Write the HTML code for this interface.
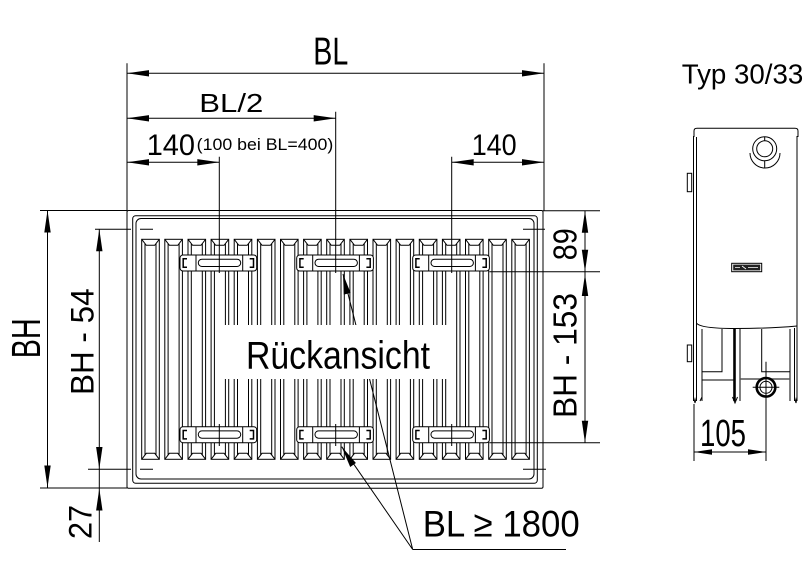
<!DOCTYPE html>
<html><head><meta charset="utf-8"><style>
html,body{margin:0;padding:0;background:#fff;}
svg{display:block;}
text{font-family:"Liberation Sans",Arial,sans-serif;fill:#000;}
</style></head><body>
<svg width="810" height="572" viewBox="0 0 810 572" xmlns="http://www.w3.org/2000/svg">
<defs>
<g id="fin" fill="none" stroke="#000" stroke-width="1">
<rect x="0" y="239.3" width="17.6" height="220"/>
<path d="M0,239.3 L4.6,245.3 H13 L17.6,239.3 M0,459.3 L4.6,453.3 H13 L17.6,459.3 M3.3,243.6 V455 M14.3,243.6 V455"/>
</g>
<g id="br" stroke="#000">
<rect x="0" y="0" width="76.7" height="16" rx="3" fill="#fff" stroke-width="1"/>
<path d="M16,0 V16 M62.7,0 V16" fill="none" stroke-width="1"/>
<rect x="18.3" y="4.2" width="42.4" height="7.3" rx="3.6" fill="none" stroke-width="1"/>
<path d="M7,3.8 H3.2 V12.2 H7 M69.7,3.8 H73.5 V12.2 H69.7" fill="none" stroke-width="1.5"/>
</g>
</defs>
<rect width="810" height="572" fill="#fff"/>

<!-- frame -->
<g fill="none" stroke="#000" stroke-width="1">
<rect x="127" y="210.5" width="416" height="277.8" rx="1.5"/>
<rect x="132.7" y="215.7" width="404.6" height="267.6" rx="3"/>
<rect x="136" y="218.5" width="398" height="260.5" rx="5"/>
</g>

<!-- fins -->
<use href="#fin" x="141.7"/><use href="#fin" x="164.8"/><use href="#fin" x="188"/><use href="#fin" x="211.1"/>
<use href="#fin" x="234.2"/><use href="#fin" x="257.4"/><use href="#fin" x="280.5"/><use href="#fin" x="303.6"/>
<use href="#fin" x="326.7"/><use href="#fin" x="349.9"/><use href="#fin" x="373"/><use href="#fin" x="396.1"/>
<use href="#fin" x="419.3"/><use href="#fin" x="442.4"/><use href="#fin" x="465.5"/><use href="#fin" x="488.7"/>
<use href="#fin" x="511.8"/>

<!-- leaders -->
<g stroke="#000" stroke-width="1" fill="none">
<path d="M343,274 L412.7,549.5 M341.7,446.7 L412.7,549.5 M412.7,549.5 H566"/>
</g>
<polygon points="343,274 350.6,292.9 343.8,294.6" fill="#000"/>
<polygon points="341.7,446.7 355.9,463 350.2,467" fill="#000"/>

<!-- text box -->
<rect x="217" y="325" width="230" height="54" fill="#fff"/>
<text x="246" y="368.3" font-size="38.5" textLength="184" lengthAdjust="spacingAndGlyphs">Rückansicht</text>

<!-- brackets -->
<use href="#br" x="180" y="255"/><use href="#br" x="296.7" y="255"/><use href="#br" x="412.7" y="255"/>
<use href="#br" x="180" y="426.7"/><use href="#br" x="296.7" y="426.7"/><use href="#br" x="412.7" y="426.7"/>

<!-- dimension / extension lines -->
<g stroke="#000" stroke-width="1" fill="none">
<path d="M127,63.3 V210.5 M544,63.3 V210.5"/>
<path d="M127,73.3 H544 M127,118.3 H335.7 M127,162.3 H219.3 M451.7,162.3 H544"/>
<path d="M219.3,156.7 V273 M335.7,111.7 V273 M451.7,156.7 V273"/>
<path d="M219.3,424 V446 M335.7,424 V446 M451.7,424 V446"/>
<path d="M40,210.5 H127 M40,488 H127 M95,229.3 H131 M140,229.3 H153 M88,469.3 H131 M140,469.3 H153"/>
<path d="M523,229.3 H545 M523,469.3 H546"/>
<path d="M47.5,210.5 V487.5 M99.3,229.3 V542"/>
<path d="M543,210.7 H600 M489.4,271.7 H600 M489.4,442.7 H600 M585,210.7 V442.7"/>
</g>
<g fill="#000">
<polygon points="127,73.3 149,70.1 149,76.5"/><polygon points="544,73.3 522,70.1 522,76.5"/>
<polygon points="127,118.3 149,115.1 149,121.5"/><polygon points="335.7,118.3 313.7,115.1 313.7,121.5"/>
<polygon points="127,162.3 149,159.1 149,165.5"/><polygon points="219.3,162.3 197.3,159.1 197.3,165.5"/>
<polygon points="451.7,162.3 473.7,159.1 473.7,165.5"/><polygon points="544,162.3 522,159.1 522,165.5"/>
<polygon points="47.5,210.5 44.3,232.5 50.7,232.5"/><polygon points="47.5,487.5 44.3,465.5 50.7,465.5"/>
<polygon points="99.3,229.3 96.1,251.3 102.5,251.3"/><polygon points="99.3,469 96.1,447 102.5,447"/>
<polygon points="99.3,488.5 96.1,510.5 102.5,510.5"/>
<polygon points="585,210.7 581.8,232.7 588.2,232.7"/><polygon points="585,271.7 581.8,249.7 588.2,249.7"/>
<polygon points="585,274 581.8,296 588.2,296"/><polygon points="585,442.7 581.8,420.7 588.2,420.7"/>
</g>

<!-- labels -->
<text x="313.3" y="64.3" font-size="38.5" textLength="35" lengthAdjust="spacingAndGlyphs">BL</text>
<text x="199.3" y="112" font-size="25.5" textLength="64" lengthAdjust="spacingAndGlyphs">BL/2</text>
<text x="146.7" y="155" font-size="30" textLength="48.3" lengthAdjust="spacingAndGlyphs">140</text>
<text x="196.7" y="150" font-size="16.5" textLength="136.6" lengthAdjust="spacingAndGlyphs">(100 bei BL=400)</text>
<text x="471.7" y="155" font-size="30" textLength="45" lengthAdjust="spacingAndGlyphs">140</text>
<text transform="translate(40,338.3) rotate(-90)" text-anchor="middle" font-size="41" textLength="40" lengthAdjust="spacingAndGlyphs">BH</text>
<text transform="translate(93.3,341.7) rotate(-90)" text-anchor="middle" font-size="32" textLength="106.7" lengthAdjust="spacingAndGlyphs">BH - 54</text>
<text transform="translate(91.5,522) rotate(-90)" text-anchor="middle" font-size="32" textLength="34" lengthAdjust="spacingAndGlyphs">27</text>
<text transform="translate(576.7,244.2) rotate(-90)" text-anchor="middle" font-size="33" textLength="32" lengthAdjust="spacingAndGlyphs">89</text>
<text transform="translate(576.7,355.5) rotate(-90)" text-anchor="middle" font-size="33" textLength="125" lengthAdjust="spacingAndGlyphs">BH - 153</text>
<text x="422.7" y="536.7" font-size="37" textLength="157" lengthAdjust="spacingAndGlyphs">BL ≥ 1800</text>
<text x="681.7" y="83.3" font-size="28" textLength="121.6" lengthAdjust="spacingAndGlyphs">Typ 30/33</text>
<text x="700" y="446" font-size="38" textLength="46" lengthAdjust="spacingAndGlyphs">105</text>

<!-- side view -->
<g fill="none" stroke="#000" stroke-width="1">
<path d="M694,137 V131 Q694,128.3 697,128.3 H795 Q798,128.3 798,131 V137"/>
<path d="M693.5,136 V401 M696.5,137 V401 M797,136 V401 M794.5,328 V401"/>
<path d="M696.5,323 Q700,328.5 735,328.5 Q770,328.5 797,326"/>
<path d="M702,329 V401 M702,331 V371.7 H722 V329 M702,380 H734"/>
<path d="M740,329 V401 M761.7,329 V371.7 H790 V329 M790,329 V401"/>
<path d="M693.5,397 L695,403 L696.5,397 M702,397 L700,401 M732.5,397 L735,403 L737.5,397 M794.5,397 L796,403 L797,397"/>
<circle cx="764.7" cy="148.8" r="12"/>
<circle cx="764.7" cy="148.8" r="8"/>
<path d="M750,153 A15,15 0 0 0 780,153 M764.7,160.8 V168.3 M764.7,136.8 V140.8"/>
<rect x="687.3" y="173.3" width="4.4" height="18.4"/>
<rect x="687.3" y="345" width="4.4" height="16.7"/>
<path d="M694,404 V461 M766,361.7 V461 M694,452 H766 M752.7,387.3 H779.3"/>
</g>
<path d="M734.5,328 V401" stroke="#000" stroke-width="2.6" fill="none"/>
<path d="M740,379 H790" stroke="#555" stroke-width="1.6" fill="none"/>
<circle cx="766" cy="387.3" r="9.3" fill="#fff" stroke="#000" stroke-width="2.6"/>
<circle cx="766" cy="387.3" r="6" fill="none" stroke="#000" stroke-width="1"/>
<path d="M766,378 V397 M756,387.3 H776" stroke="#000" stroke-width="1" fill="none"/>
<rect x="731.7" y="263.3" width="30" height="8.4" fill="#fff" stroke="#000" stroke-width="1"/>
<rect x="733.2" y="264.6" width="27" height="5.8" fill="#222"/>
<path d="M735,267.5 H740 M742,266 L746,269 M748,267.5 H758" stroke="#fff" stroke-width="0.8"/>
<polygon points="694,452 712,449.2 712,454.8" fill="#000"/>
<polygon points="766,452 748,449.2 748,454.8" fill="#000"/>
</svg>
</body></html>
